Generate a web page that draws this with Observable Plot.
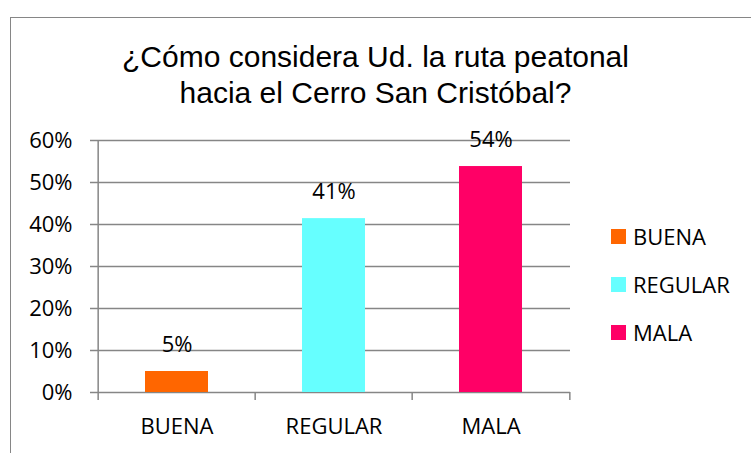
<!DOCTYPE html>
<html>
<head>
<meta charset="utf-8">
<script src="https://cdn.jsdelivr.net/npm/d3@7"></script>
<script src="https://cdn.jsdelivr.net/npm/@observablehq/plot@0.6"></script>
<style>
  html, body { margin: 0; padding: 0; background: #fff; }
  #wrap { position: relative; width: 751px; height: 453px; overflow: hidden; background: #fff; }
  #border { position: absolute; left: 10px; top: 17px; width: 800px; height: 500px;
            border-left: 1.5px solid #868686; border-top: 1.5px solid #868686; }
  #title { position: absolute; left: 0; top: 39px; width: 751px; text-align: center;
           font-family: "Liberation Sans", Arial, sans-serif; font-size: 30px; line-height: 36px; color: #000; }
  #chart { position: absolute; left: 0; top: 0; }
  .leg { position: absolute; left: 611px; height: 30px; display: flex; align-items: center;
         font-family: "Open Sans", sans-serif; font-size: 22px; color: #000; }
  .leg span.sw { display: inline-block; width: 15px; height: 15px; margin-right: 7px; }
</style>
</head>
<body>
<div id="wrap">
  <div id="border"></div>
  <div id="title">¿Cómo considera Ud. la ruta peatonal<br>hacia el Cerro San Cristóbal?</div>
  <div id="chart"></div>
  <div id="legend"></div>
</div>
<script>
const categories = ["BUENA", "REGULAR", "MALA"];
const values = [0.05, 0.414, 0.538];
const colors = ["#FF6600", "#66FFFF", "#FF0066"];
const yTicks = [0, 0.1, 0.2, 0.3, 0.4, 0.5, 0.6];

const data = categories.map((c, i) => ({cat: c, value: values[i]}));

const W = 751, H = 453, mL = 97, mR = 181, mT = 140, mB = 61;
const step = (W - mL - mR) / categories.length;
const tickLen = 0.6 * 8 / (H - mT - mB); // 8px below axis, in data units
const grid = "#868686";

const chart = Plot.plot({
  width: W, height: H,
  marginLeft: mL, marginRight: mR, marginTop: mT, marginBottom: mB,
  style: {fontFamily: "'Open Sans', sans-serif", fontSize: "22px", color: "#000", background: "transparent"},
  x: {type: "band", domain: categories, paddingInner: 0.6, paddingOuter: 0.3, axis: null, label: null},
  y: {domain: [0, 0.6], axis: null, label: null},
  color: {domain: categories, range: colors},
  marks: [
    Plot.ruleY(yTicks, {stroke: grid, strokeWidth: 1.5, insetLeft: -7}),
    Plot.barY(data, {x: "cat", y: "value", fill: "cat"}),
    Plot.ruleX([categories[0]], {dx: -step / 2, y1: -tickLen, y2: 0.6, stroke: grid, strokeWidth: 1.5}),
    Plot.ruleX(categories.slice(1), {dx: -step / 2, y1: -tickLen, y2: 0, stroke: grid, strokeWidth: 1.5}),
    Plot.ruleX([categories[categories.length - 1]], {dx: step / 2, y1: -tickLen, y2: 0, stroke: grid, strokeWidth: 1.5}),
    Plot.axisY(yTicks, {tickSize: 0, tickPadding: 25, tickFormat: d3.format(".0%"), fontSize: 22, fill: "#000", label: null}),
    Plot.axisX(categories, {tickSize: 0, tickPadding: 26, fontSize: 22, fill: "#000", label: null}),
    Plot.text(data, {x: "cat", y: "value", text: d => d3.format(".0%")(d.value), dy: -27, lineAnchor: "middle", fontSize: 22, fill: "#000"})
  ]
});
document.getElementById("chart").appendChild(chart);

const legend = document.getElementById("legend");
const legY = [236, 284, 332];
categories.forEach((c, i) => {
  const row = document.createElement("div");
  row.className = "leg";
  row.style.top = (legY[i] - 15) + "px";
  row.innerHTML = `<span class="sw" style="background:${colors[i]}"></span>${c}`;
  legend.appendChild(row);
});
</script>
</body>
</html>
